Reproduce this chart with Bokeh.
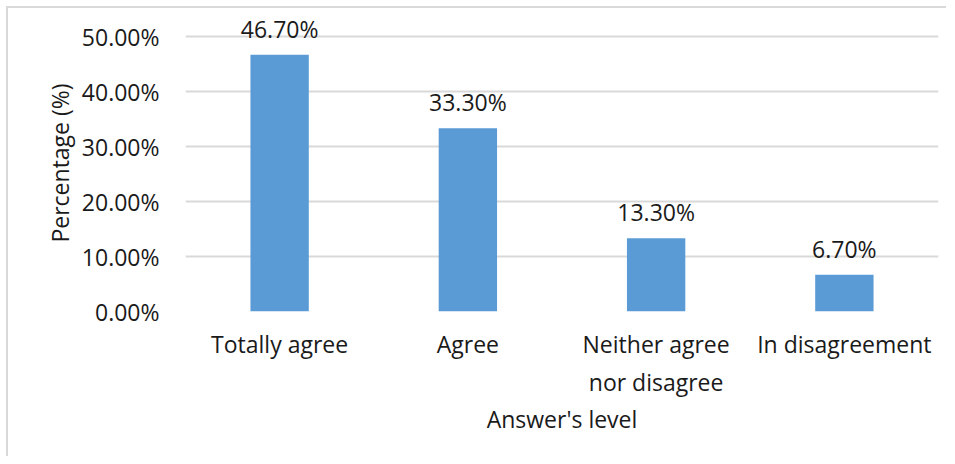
from bokeh.plotting import figure
from bokeh.models import ColumnDataSource, PrintfTickFormatter, FixedTicker, Range1d
from bokeh.core.properties import value
from bokeh.embed import file_html
from bokeh.resources import INLINE

categories = ["Totally agree", "Agree", "Neither agree\nnor disagree", "In disagreement"]
percentages = [46.7, 33.3, 13.3, 6.7]
y_ticks = [0, 10, 20, 30, 40, 50]

FONT = "Open Sans"
FS = "23px"
TXT = "#1a1a1a"
GRID = "#D9D9D9"
BAR = "#5B9BD5"

W, H = 940, 450
p = figure(x_range=categories, y_range=Range1d(0, 54), width=W, height=H,
           output_backend="svg", toolbar_location=None,
           min_border_left=177, min_border_right=10, min_border_top=6, min_border_bottom=147)

src = ColumnDataSource(dict(cat=categories, val=percentages,
                            lbl=[f"{v:.2f}%" for v in percentages]))
p.vbar(x="cat", top="val", width=0.31, source=src, fill_color=BAR, line_color=None)
p.text(x="cat", y="val", text="lbl", source=src, text_align="center", text_baseline="bottom",
       y_offset=-10, text_font=value(FONT), text_font_size=FS, text_color=TXT)

p.outline_line_color = None
p.background_fill_color = "white"
p.border_fill_color = "white"

p.xgrid.grid_line_color = None
p.ygrid.grid_line_color = GRID
p.ygrid.grid_line_width = 2

p.yaxis.ticker = FixedTicker(ticks=y_ticks)
p.yaxis.formatter = PrintfTickFormatter(format="%.2f%%")

for ax in (p.xaxis[0], p.yaxis[0]):
    ax.axis_line_color = None
    ax.major_tick_line_color = None
    ax.minor_tick_line_color = None
    ax.major_tick_out = 0
    ax.major_tick_in = 0
    ax.major_label_text_font = FONT
    ax.major_label_text_font_size = FS
    ax.major_label_text_color = TXT
    ax.axis_label_text_font = FONT
    ax.axis_label_text_font_size = FS
    ax.axis_label_text_color = TXT
    ax.axis_label_text_font_style = "normal"

p.yaxis.axis_label = "Percentage (%)"
p.yaxis.major_label_standoff = 26
p.yaxis.axis_label_standoff = 3
p.xaxis.axis_label = "Answer's level"
p.xaxis.major_label_standoff = 16
p.xaxis.axis_label_standoff = 2

p.styles = {"border-left": "2px solid #D9D9D9", "border-top": "2px solid #D9D9D9",
            "margin-left": "6px", "margin-top": "6px"}

open("out.html", "w").write(file_html(p, INLINE))
